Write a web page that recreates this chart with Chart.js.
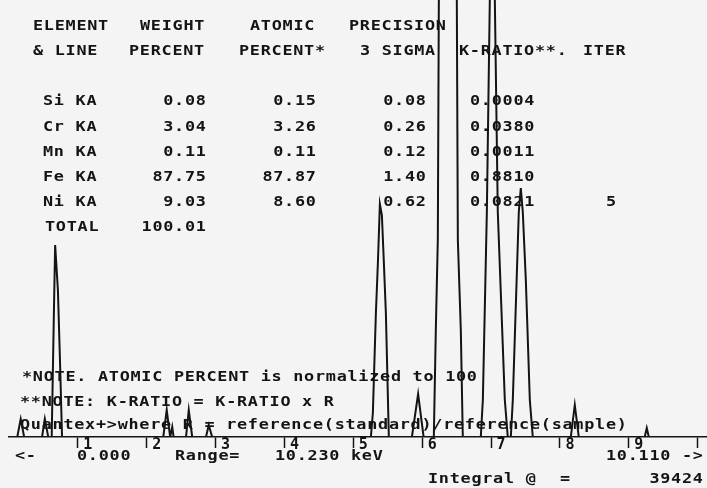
<!DOCTYPE html>
<html><head><meta charset="utf-8">
<script src="https://cdn.jsdelivr.net/npm/chart.js@4.4.1/dist/chart.umd.min.js"></script>
<style>html,body{margin:0;padding:0;background:#f4f4f4;} canvas{display:block;background:#f4f4f4;}</style>
</head><body>
<canvas id="c" width="707" height="488"></canvas>
<script>
// ---- table data ----
const elements = ['Si KA', 'Cr KA', 'Mn KA', 'Fe KA', 'Ni KA'];
const weightPercent = ['0.08', '3.04', '0.11', '87.75', '9.03'];
const atomicPercent = ['0.15', '3.26', '0.11', '87.87', '8.60'];
const precision3Sigma = ['0.08', '0.26', '0.12', '1.40', '0.62'];
const kRatio = ['0.0004', '0.0380', '0.0011', '0.8810', '0.0821'];
const totalWeight = '100.01';
const iterations = '5';

// ---- spectrum (energy keV, counts; null = gap) ----
const energyKeV = [
  0.12, 0.17, 0.22, 0.30,
  0.48, 0.52, 0.57, 0.60,
  0.62, 0.65, 0.67, 0.71, 0.74, 0.77, 1.00,
  2.24, 2.29, 2.34, 2.37, 2.39, 2.45,
  2.57, 2.61, 2.66, 2.75,
  2.86, 2.90, 2.95, 3.50,
  5.254, 5.283, 5.327, 5.356, 5.385, 5.414, 5.443, 5.472, 5.515, 5.70,
  5.85, 5.94, 6.02, 6.10,
  6.168, 6.197, 6.226, 6.241, 6.357, 6.502, 6.517, 6.560, 6.589, 6.70,
  6.850, 6.880, 6.938, 6.981, 7.017, 7.054, 7.097, 7.199, 7.242, 7.26,
  7.286, 7.315, 7.402, 7.431, 7.460, 7.504, 7.562, 7.605, 7.90,
  8.157, 8.215, 8.273, 8.80,
  9.23, 9.26, 9.29
];
const counts = [
  0, 180, 0, null,
  0, 180, 0, null,
  0, 1170, 1920, 1470, 770, 0, null,
  0, 270, 0, 100, 0, null,
  0, 270, 0, null,
  0, 120, 0, null,
  0, 240, 1240, 1740, 2330, 2220, 1740, 1240, 0, null,
  0, 430, 0, null,
  0, 1070, 1970, 4370, 11000, 4370, 1970, 1070, 0, null,
  0, 370, 2250, 4370, 6370, 4370, 2250, 370, 0, null,
  0, 370, 2250, 2490, 2250, 1570, 370, 0, null,
  0, 320, 0, null,
  0, 90, 0
];
const xTickValues = [1, 2, 3, 4, 5, 6, 7, 8, 9, 10];
const xTickLabels = ['1', '2', '3', '4', '5', '6', '7', '8', '9', ''];

const INK = '#141414';
const FONT = 'bold 14px "DejaVu Sans Mono", "Liberation Mono", monospace';
const P = 10.85, SX = 1.2, GW = 9.2;

function mono(ctx, text, x, y) {
  for (let i = 0; i < text.length; i++) {
    ctx.save();
    ctx.translate(x + i * P, y);
    ctx.scale(SX, 1);
    ctx.fillText(text[i], 0, 0);
    ctx.restore();
  }
}
function monoR(ctx, text, right, y) {
  mono(ctx, text, right - (text.length - 1) * P - GW, y);
}

const textPlugin = {
  id: 'printout',
  beforeDatasetsDraw(chart) {
    const ctx = chart.ctx;
    ctx.save();
    ctx.fillStyle = INK;
    ctx.font = FONT;
    ctx.textAlign = 'left';
    ctx.textBaseline = 'alphabetic';
    // headers
    mono(ctx, 'ELEMENT', 33, 30);
    mono(ctx, 'WEIGHT', 140, 30);
    mono(ctx, 'ATOMIC', 250, 30);
    mono(ctx, 'PRECISION', 349, 30);
    mono(ctx, '& LINE', 33, 55);
    mono(ctx, 'PERCENT', 129, 55);
    mono(ctx, 'PERCENT*', 239, 55);
    mono(ctx, '3 SIGMA', 360, 55);
    mono(ctx, 'K-RATIO**.', 459, 55);
    mono(ctx, 'ITER', 583, 55);
    const rowsY = [105, 131, 156, 181, 206];
    elements.forEach((el, i) => {
      const y = rowsY[i];
      mono(ctx, el, 43, y);
      monoR(ctx, weightPercent[i], 205, y);
      monoR(ctx, atomicPercent[i], 315, y);
      monoR(ctx, precision3Sigma[i], 425, y);
      mono(ctx, kRatio[i], 470, y);
    });
    mono(ctx, iterations, 606, 206);
    mono(ctx, 'TOTAL', 45, 231);
    monoR(ctx, totalWeight, 205, 231);
    // notes
    mono(ctx, '*NOTE. ATOMIC PERCENT is normalized to 100', 22, 381);
    mono(ctx, '**NOTE: K-RATIO = K-RATIO x R', 20, 406);
    mono(ctx, 'Quantex+>where R = reference(standard)/reference(sample)', 20, 429);
    // footer
    mono(ctx, '<-', 15, 460);
    mono(ctx, '0.000', 77, 460);
    mono(ctx, 'Range=', 175, 460);
    mono(ctx, '10.230 keV', 275, 460);
    monoR(ctx, '10.110 ->', 702, 460);
    mono(ctx, 'Integral @', 428, 483);
    mono(ctx, '=', 560, 483);
    monoR(ctx, '39424', 702, 483);
    ctx.restore();
  }
};

new Chart(document.getElementById('c'), {
  type: 'line',
  data: {
    datasets: [{
      data: energyKeV.map((e, i) => ({ x: e, y: counts[i] })),
      borderColor: INK,
      borderWidth: 2,
      pointRadius: 0,
      tension: 0,
      spanGaps: false,
      fill: false
    }]
  },
  options: {
    responsive: false,
    animation: false,
    events: [],
    layout: { padding: { left: 9, right: 1, top: 0, bottom: 0 } },
    plugins: { legend: { display: false }, tooltip: { enabled: false } },
    scales: {
      x: {
        type: 'linear', min: 0, max: 10.12,
        afterBuildTicks: s => { s.ticks = xTickValues.map(v => ({ value: v })); },
        afterFit: s => { s.height = 51; },
        grid: { drawOnChartArea: false, drawTicks: true, tickLength: 11, tickWidth: 1.5, tickColor: INK },
        border: { display: true, color: INK, width: 1.5, dash: [7, 2] },
        ticks: {
          padding: -12, labelOffset: 10, maxRotation: 0, minRotation: 0, autoSkip: false,
          color: INK,
          font: { family: '"DejaVu Sans Mono", monospace', size: 15, weight: 'bold' },
          callback: v => { const k = xTickValues.indexOf(v); return k >= 0 ? xTickLabels[k] : ''; }
        }
      },
      y: { display: false, min: 0, max: 4370 }
    }
  },
  plugins: [textPlugin]
});
</script>
</body></html>
